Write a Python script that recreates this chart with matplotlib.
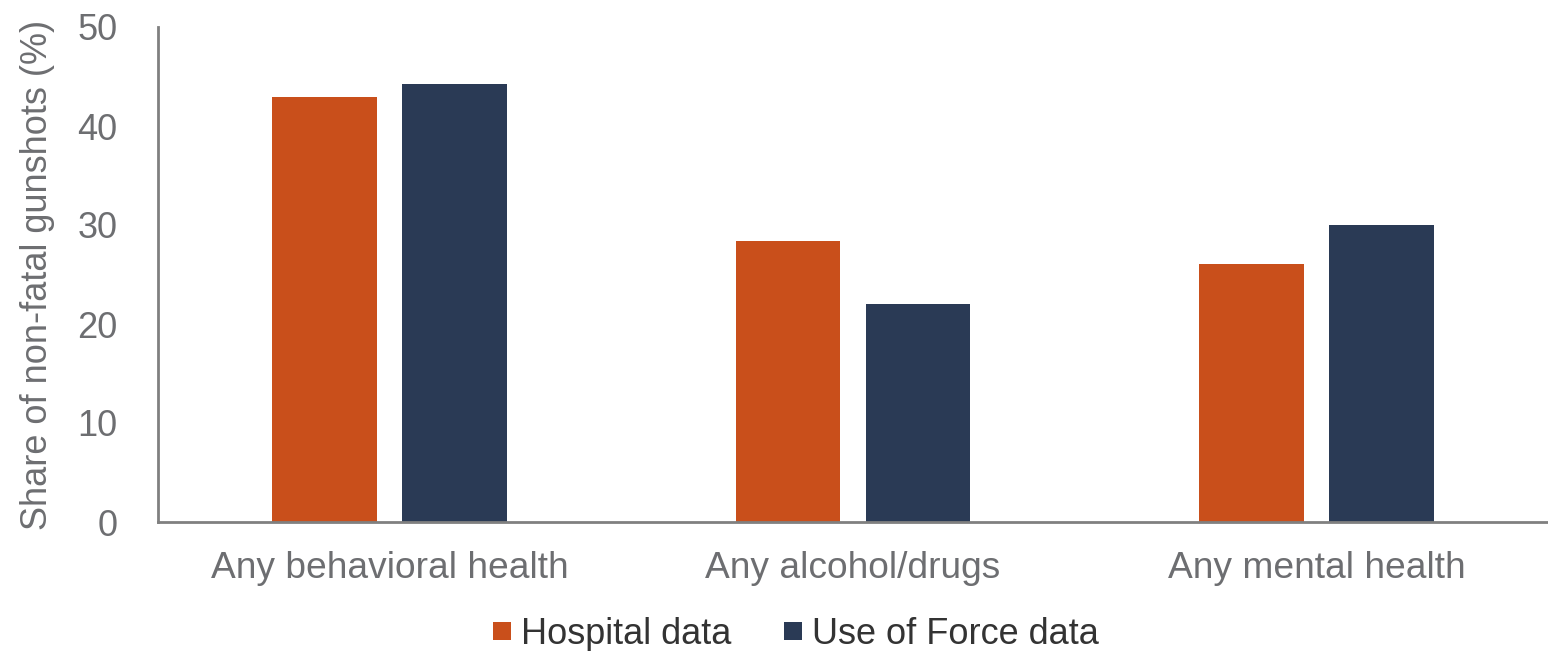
import matplotlib
matplotlib.use("Agg")
import matplotlib.pyplot as plt
import numpy as np

categories = ["Any behavioral health", "Any alcohol/drugs", "Any mental health"]
hospital = [42.9, 28.4, 26.1]
use_of_force = [44.2, 22.0, 30.0]
series_names = ["Hospital data", "Use of Force data"]
y_ticks = [0, 10, 20, 30, 40, 50]

orange = "#C94F1B"
navy = "#2A3A55"
tick_gray = "#6D6E71"
axis_gray = "#808080"

plt.rcParams["font.family"] = ["Liberation Sans", "DejaVu Sans"]

fig = plt.figure(figsize=(15.48, 6.51), dpi=100)
ax = fig.add_axes([158 / 1548, 1 - 522 / 651, 1390 / 1548, 495 / 651])

x = np.arange(len(categories))
width = 0.226
offset = 0.14
ax.bar(x - offset, hospital, width, color=orange, label=series_names[0])
ax.bar(x + offset, use_of_force, width, color=navy, label=series_names[1])

ax.set_xlim(-0.5, len(categories) - 0.5)
ax.set_ylim(0, 50)
ax.set_yticks(y_ticks)
ax.set_xticks(x)
ax.set_xticklabels(categories, fontsize=26.7)
ax.tick_params(axis="both", length=0, labelcolor=tick_gray)
ax.tick_params(axis="y", pad=29, labelsize=26)
ax.tick_params(axis="x", pad=21)

for side in ["top", "right"]:
    ax.spines[side].set_visible(False)
for side in ["left", "bottom"]:
    ax.spines[side].set_color(axis_gray)
    ax.spines[side].set_linewidth(2)

ax.set_ylabel("Share of non-fatal gunshots (%)", fontsize=26, color=tick_gray, labelpad=16)

leg = fig.legend(loc="center", bbox_to_anchor=(796 / 1548, 1 - 634 / 651), ncol=2,
                 frameon=False, fontsize=26, handlelength=0.5, handleheight=0.39,
                 handletextpad=0.28, columnspacing=1.44)
for t in leg.get_texts():
    t.set_color("#333333")

fig.savefig("out.png", dpi=100)
